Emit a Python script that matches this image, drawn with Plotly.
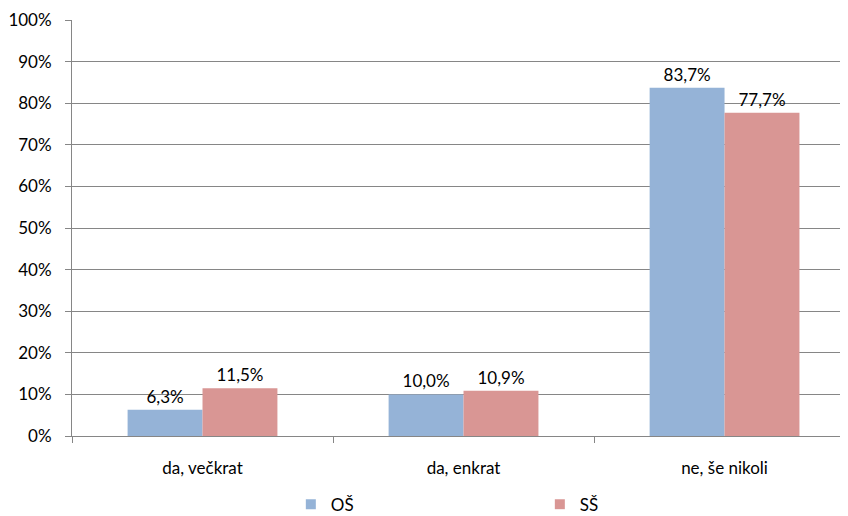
import plotly.graph_objects as go

categories = ["da, večkrat", "da, enkrat", "ne, še nikoli"]
os_values = [6.3, 10.0, 83.7]
ss_values = [11.5, 10.9, 77.7]
y_ticks = list(range(0, 101, 10))

font = "Lato, 'Open Sans', sans-serif"
blue = "#95B3D7"
red = "#D99694"


def label(v):
    return f"{v:.1f}%".replace(".", ",")


fig = go.Figure()
fig.add_trace(go.Bar(
    x=categories, y=os_values, name="OŠ", showlegend=False,
    marker=dict(color=blue, line=dict(width=0)),
    text=[label(v) for v in os_values], textposition="outside",
    textfont=dict(size=17, color="#000000"), cliponaxis=False,
))
fig.add_trace(go.Bar(
    x=categories, y=ss_values, name="SŠ", showlegend=False,
    marker=dict(color=red, line=dict(width=0)),
    text=[label(v) for v in ss_values], textposition="outside",
    textfont=dict(size=17, color="#000000"), cliponaxis=False,
))
# legend entries with small square markers
for name, color in [("OŠ", blue), ("SŠ", red)]:
    fig.add_trace(go.Scatter(
        x=[None], y=[None], mode="markers", name=name,
        marker=dict(symbol="square", size=10, color=color),
    ))

# page body has an 8px margin, so the figure is a bit smaller than the window
fig.update_layout(
    width=840, height=508,
    margin=dict(l=64, r=0, t=12, b=80, autoexpand=False),
    paper_bgcolor="white", plot_bgcolor="white",
    font=dict(family=font, size=17, color="#000000"),
    barmode="group", bargap=0.426, bargroupgap=0,
    showlegend=True,
    legend=dict(orientation="h", x=0.282, xanchor="left", y=-0.165, yanchor="middle",
                entrywidth=204, font=dict(size=17), itemwidth=30),
)
fig.update_yaxes(
    range=[0, 100], tickvals=y_ticks, ticktext=[f"{t}%" for t in y_ticks],
    showgrid=True, gridcolor="#868686", gridwidth=1,
    showline=True, linecolor="#868686", linewidth=1,
    ticks="outside", ticklen=6, tickcolor="#868686", ticklabelstandoff=10,
    zeroline=False, automargin=False,
)
fig.update_xaxes(
    range=[-0.5, 2.473],
    showline=True, linecolor="#868686", linewidth=1,
    ticks="outside", ticklen=6, tickcolor="#868686", tickson="boundaries",
    ticklabelstandoff=17,
    showgrid=False, automargin=False,
)

fig.write_html("out.html")
